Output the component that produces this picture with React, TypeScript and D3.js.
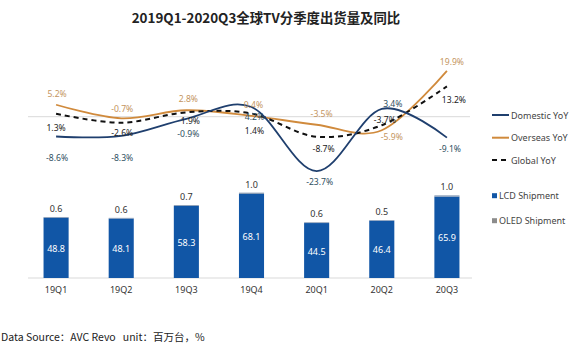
import React, { useEffect, useRef } from "react";
import * as d3 from "d3";

const quarters = ["19Q1", "19Q2", "19Q3", "19Q4", "20Q1", "20Q2", "20Q3"];
const lcdShipment = [48.8, 48.1, 58.3, 68.1, 44.5, 46.4, 65.9];
const oledShipment = [0.6, 0.6, 0.7, 1.0, 0.6, 0.5, 1.0];
const domesticYoY = [-8.6, -8.3, -0.9, 4.2, -23.7, 3.4, -9.1];
const overseasYoY = [5.2, -0.7, 2.8, 0.4, -3.5, -5.9, 19.9];
const globalYoY = [1.3, -2.6, 1.9, 1.4, -8.7, -3.7, 13.2];

// label placement (px, relative to point)
const domesticLabelDy = [21, 22, 15.5, 10, 11, -5, 11.5];
const domesticLabelDx = [1, 1, 2, 3, 3, 11, 3];
const overseasLabelDy = [-11, -10, -11, -11, -11, 7, -9];
const overseasLabelDx = [1, 1, 2, 2, 5, 10, 5];
const globalLabelDy = [14, 10, 8.5, 17, 12, -5, 13];
const globalLabelDx = [0, 1, 4, 3, 7, 3, 7];

const W = 570;
const H = 352;

const App = () => {
  const svgRef = useRef<SVGSVGElement>(null);

  useEffect(() => {
    const svg = d3.select(svgRef.current);
    svg.selectAll("*").remove();
    const font = "'Noto Sans', 'Noto Sans CJK SC', sans-serif";

    const x = d3.scaleBand().domain(quarters).range([24, 479]).paddingInner(0.615).paddingOuter(0.3);
    const cx = (q: string) => (x(q) as number) + x.bandwidth() / 2;

    const yBar = d3.scaleLinear().domain([0, 80]).range([278, 179.2]);
    const yLine = d3.scaleLinear().domain([-25, 20]).range([174.2, 70.7]);

    // title
    svg.append("text")
      .attr("x", 266).attr("y", 23)
      .attr("text-anchor", "middle")
      .style("font-family", "'Noto Sans CJK SC', sans-serif")
      .style("font-weight", "bold")
      .style("font-size", "13.4px")
      .attr("fill", "#222")
      .text("2019Q1-2020Q3全球TV分季度出货量及同比");

    // zero line + axis line
    svg.append("line")
      .attr("x1", 28).attr("x2", 470)
      .attr("y1", yLine(0)).attr("y2", yLine(0))
      .attr("stroke", "#d9d9d9").attr("stroke-width", 1);
    svg.append("line")
      .attr("x1", 28).attr("x2", 472)
      .attr("y1", yBar(0)).attr("y2", yBar(0))
      .attr("stroke", "#d9d9d9").attr("stroke-width", 1);

    const rows = quarters.map((q, i) => ({ q, lcd: lcdShipment[i], oled: oledShipment[i] }));

    // LCD bars
    svg.selectAll(".lcd").data(rows).enter().append("rect")
      .attr("x", d => x(d.q) as number)
      .attr("width", x.bandwidth())
      .attr("y", d => yBar(d.lcd))
      .attr("height", d => yBar(0) - yBar(d.lcd))
      .attr("fill", "#1156a6");
    // OLED stacked
    svg.selectAll(".oled").data(rows).enter().append("rect")
      .attr("x", d => x(d.q) as number)
      .attr("width", x.bandwidth())
      .attr("y", d => yBar(d.lcd + d.oled))
      .attr("height", d => yBar(d.lcd) - yBar(d.lcd + d.oled))
      .attr("fill", "#8095b0");

    svg.selectAll(".lcdLabel").data(rows).enter().append("text")
      .attr("x", d => cx(d.q))
      .attr("y", d => (yBar(0) + yBar(d.lcd)) / 2 + 4)
      .attr("text-anchor", "middle")
      .style("font-family", font).style("font-size", "9px")
      .attr("fill", "#fff")
      .text(d => d.lcd.toFixed(1));
    svg.selectAll(".oledLabel").data(rows).enter().append("text")
      .attr("x", d => cx(d.q))
      .attr("y", d => yBar(d.lcd + d.oled) - 5)
      .attr("text-anchor", "middle")
      .style("font-family", font).style("font-size", "9px")
      .attr("fill", "#333")
      .text(d => d.oled.toFixed(1));

    // x tick labels
    svg.selectAll(".tick").data(quarters).enter().append("text")
      .attr("x", d => cx(d))
      .attr("y", 293)
      .attr("text-anchor", "middle")
      .style("font-family", font).style("font-size", "9px")
      .attr("fill", "#333")
      .text(d => d);

    const line = d3.line<number>()
      .x((_, i) => cx(quarters[i]))
      .y(d => yLine(d))
      .curve(d3.curveCardinal.tension(0));

    const series = [
      { vals: overseasYoY, color: "#d08a3c", dash: null, width: 1.8, label: "#c49560", dy: overseasLabelDy, dx: overseasLabelDx },
      { vals: globalYoY, color: "#111", dash: "5,4", width: 2, label: "#222", dy: globalLabelDy, dx: globalLabelDx },
      { vals: domesticYoY, color: "#1f3f6e", dash: null, width: 1.8, label: "#2f4f5f", dy: domesticLabelDy, dx: domesticLabelDx },
    ];

    series.forEach(s => {
      svg.append("path")
        .attr("d", line(s.vals))
        .attr("fill", "none")
        .attr("stroke", s.color)
        .attr("stroke-width", s.width)
        .attr("stroke-dasharray", s.dash);
    });
    series.forEach(s => {
      svg.selectAll(null).data(s.vals).enter().append("text")
        .attr("x", (d, i) => cx(quarters[i]) + s.dx[i])
        .attr("y", (d, i) => yLine(d) + s.dy[i] + 3.2)
        .attr("text-anchor", "middle")
        .style("font-family", font).style("font-size", "8.6px")
        .attr("fill", s.label)
        .text(d => `${d.toFixed(1)}%`);
    });

    // legend
    const legLines = [
      { name: "Domestic YoY", color: "#1f3f6e", dash: null, y: 115 },
      { name: "Overseas YoY", color: "#d08a3c", dash: null, y: 137.7 },
      { name: "Global YoY", color: "#111", dash: "5,4", y: 160 },
    ];
    legLines.forEach(l => {
      svg.append("line")
        .attr("x1", 492).attr("x2", 509).attr("y1", l.y).attr("y2", l.y)
        .attr("stroke", l.color).attr("stroke-width", 2)
        .attr("stroke-dasharray", l.dash);
      svg.append("text")
        .attr("x", 511).attr("y", l.y + 3.5)
        .style("font-family", font).style("font-size", "9px")
        .attr("fill", "#444").text(l.name);
    });
    const legBoxes = [
      { name: "LCD Shipment", color: "#1156a6", y: 195.7 },
      { name: "OLED Shipment", color: "#8c8c8c", y: 220.7 },
    ];
    legBoxes.forEach(l => {
      svg.append("rect")
        .attr("x", 492).attr("y", l.y - 2.5).attr("width", 5).attr("height", 5)
        .attr("fill", l.color);
      svg.append("text")
        .attr("x", 499).attr("y", l.y + 3.5)
        .style("font-family", font).style("font-size", "9px")
        .attr("fill", "#444").text(l.name);
    });

    // footer
    svg.append("text")
      .attr("x", 1).attr("y", 341)
      .style("font-family", "'Noto Sans CJK SC', sans-serif").style("font-size", "10.5px")
      .style("white-space", "pre")
      .attr("fill", "#222")
      .text("Data Source：AVC Revo   unit：百万台，%");
  }, []);

  return (
    <div style={{ position: "absolute", left: 0, top: 0 }}>
      <svg ref={svgRef} width={W} height={H} style={{ display: "block", background: "#fff" }} />
    </div>
  );
};

export default App;
